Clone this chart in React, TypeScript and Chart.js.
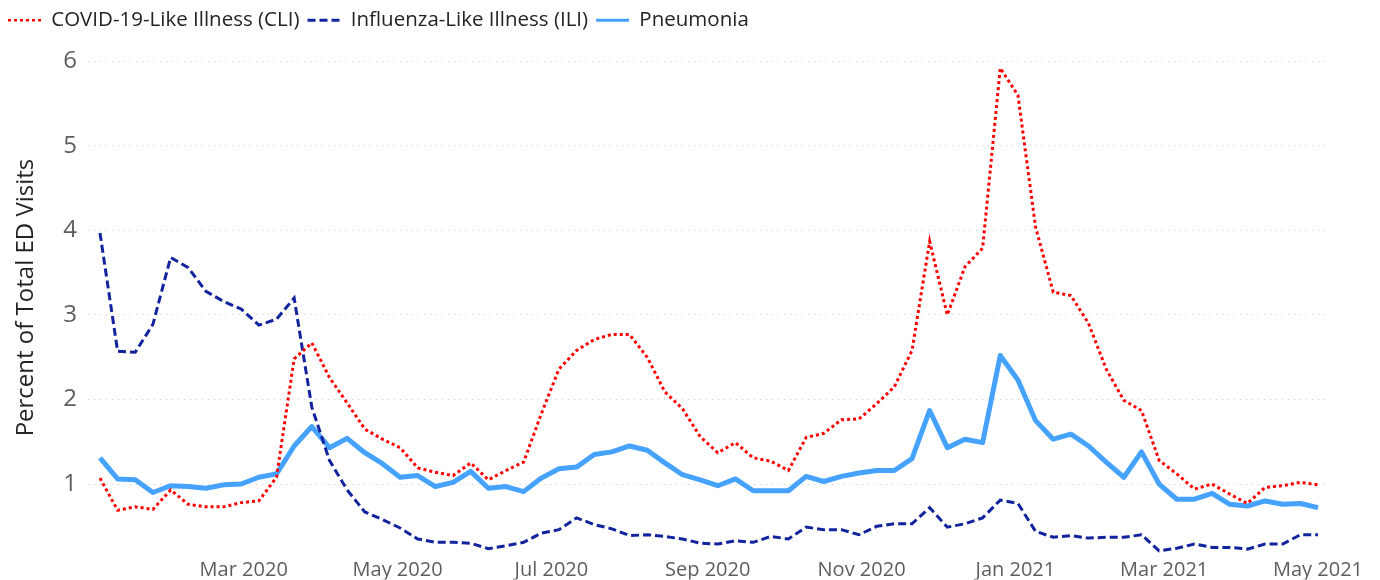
import React, { useEffect, useRef } from 'react';
import { Chart, registerables } from 'chart.js';

Chart.register(...registerables);

// Weekly data points (week ending), first week ending 2020-01-04
const firstWeekEnding = '2020-01-04';

const seriesNames = [
  'COVID-19-Like Illness (CLI)',
  'Influenza-Like Illness (ILI)',
  'Pneumonia',
];

const cli = [
  1.07, 0.69, 0.73, 0.70, 0.93, 0.76, 0.73, 0.73, 0.78, 0.80,
  1.08, 2.48, 2.67, 2.26, 1.96, 1.65, 1.53, 1.43, 1.19, 1.14,
  1.10, 1.25, 1.05, 1.16, 1.26, 1.83, 2.36, 2.58, 2.71, 2.77,
  2.77, 2.50, 2.09, 1.89, 1.56, 1.37, 1.49, 1.31, 1.27, 1.16,
  1.55, 1.60, 1.76, 1.77, 1.95, 2.15, 2.58, 3.87, 3.00, 3.57,
  3.79, 5.92, 5.60, 4.04, 3.27, 3.23, 2.90, 2.36, 1.99, 1.87,
  1.28, 1.12, 0.94, 1.00, 0.88, 0.77, 0.96, 0.98, 1.02, 0.99,
];

const ili = [
  3.97, 2.57, 2.56, 2.89, 3.68, 3.56, 3.28, 3.16, 3.07, 2.88,
  2.95, 3.20, 1.91, 1.28, 0.93, 0.67, 0.58, 0.48, 0.35, 0.31,
  0.31, 0.30, 0.235, 0.27, 0.31, 0.42, 0.46, 0.60, 0.52, 0.47,
  0.39, 0.40, 0.38, 0.35, 0.30, 0.29, 0.33, 0.31, 0.38, 0.35,
  0.49, 0.46, 0.46, 0.40, 0.50, 0.53, 0.53, 0.72, 0.49, 0.53,
  0.60, 0.81, 0.77, 0.44, 0.37, 0.39, 0.36, 0.37, 0.37, 0.40,
  0.21, 0.24, 0.29, 0.25, 0.25, 0.23, 0.29, 0.29, 0.40, 0.40,
];

const pneumonia = [
  1.31, 1.06, 1.05, 0.90, 0.98, 0.97, 0.95, 0.99, 1.00, 1.08,
  1.12, 1.45, 1.68, 1.43, 1.54, 1.37, 1.24, 1.08, 1.10, 0.97,
  1.02, 1.15, 0.95, 0.97, 0.91, 1.07, 1.18, 1.20, 1.35, 1.38,
  1.45, 1.40, 1.25, 1.11, 1.05, 0.98, 1.06, 0.92, 0.92, 0.92,
  1.09, 1.03, 1.09, 1.13, 1.16, 1.16, 1.30, 1.87, 1.43, 1.53,
  1.49, 2.52, 2.23, 1.75, 1.53, 1.59, 1.45, 1.26, 1.08, 1.38,
  1.00, 0.82, 0.82, 0.89, 0.76, 0.74, 0.80, 0.76, 0.77, 0.72,
];

const tickDates = [
  '2020-03-01', '2020-05-01', '2020-07-01', '2020-09-01',
  '2020-11-01', '2021-01-01', '2021-03-01', '2021-05-01',
];
const tickLabels = [
  'Mar 2020', 'May 2020', 'Jul 2020', 'Sep 2020',
  'Nov 2020', 'Jan 2021', 'Mar 2021', 'May 2021',
];
const yTicks = [1, 2, 3, 4, 5, 6];

const DAY_MS = 86400000;
function toUTC(iso: string): number {
  const [y, m, d] = iso.split('-').map(Number);
  return Date.UTC(y, m - 1, d);
}
const t0 = toUTC(firstWeekEnding);
const dayOf = (iso: string) => (toUTC(iso) - t0) / DAY_MS;
const weekDays = cli.map((_, i) => i * 7);
const tickDays = tickDates.map(dayOf);

const toPoints = (vals: number[]) => vals.map((v, i) => ({ x: weekDays[i], y: v }));

const lineDashes: number[][] = [[3, 3], [8, 4], []];
const legendWidths = [2.5, 3, 3];

export default function App() {
  const canvasRef = useRef<HTMLCanvasElement | null>(null);

  useEffect(() => {
    if (!canvasRef.current) return;
    Chart.defaults.font.family = "'Open Sans', 'Noto Sans', sans-serif";
    const chart = new Chart(canvasRef.current, {
      type: 'line',
      data: {
        datasets: [
          {
            label: seriesNames[0],
            data: toPoints(cli),
            borderColor: '#FF0000',
            backgroundColor: '#FF0000',
            borderWidth: 3,
            borderDash: lineDashes[0],
            pointRadius: 0,
            tension: 0,
            fill: false,
          },
          {
            label: seriesNames[1],
            data: toPoints(ili),
            borderColor: '#12239E',
            backgroundColor: '#12239E',
            borderWidth: 3,
            borderDash: lineDashes[1],
            pointRadius: 0,
            tension: 0,
            fill: false,
          },
          {
            label: seriesNames[2],
            data: toPoints(pneumonia),
            borderColor: '#45A2FF',
            backgroundColor: '#45A2FF',
            borderWidth: 5,
            borderJoinStyle: 'round',
            pointRadius: 0,
            tension: 0,
            fill: false,
          },
        ],
      },
      options: {
        responsive: false,
        animation: false,
        layout: { padding: { top: 2, right: 50, left: 0, bottom: 0 } },
        plugins: {
          tooltip: { enabled: false },
          legend: {
            display: true,
            position: 'top',
            align: 'start',
            labels: {
              usePointStyle: true,
              pointStyle: 'line',
              pointStyleWidth: 33,
              boxHeight: 20,
              padding: 8,
              color: '#252423',
              font: { size: 20.5 },
              generateLabels: (ch: any) => {
                const items = Chart.defaults.plugins.legend.labels.generateLabels(ch);
                return items.map((it: any) => {
                  const ds = ch.data.datasets[it.datasetIndex];
                  return {
                    ...it,
                    strokeStyle: ds.borderColor,
                    fillStyle: ds.borderColor,
                    lineDash: lineDashes[it.datasetIndex],
                    lineWidth: legendWidths[it.datasetIndex],
                  };
                });
              },
            },
          },
        },
        scales: {
          x: {
            type: 'linear',
            min: -4.75,
            max: 487.75,
            grid: { display: false },
            border: { display: false },
            afterBuildTicks: (s: any) => {
              s.ticks = tickDays.map((v) => ({ value: v }));
            },
            afterFit: (s: any) => {
              s.height = 25;
            },
            ticks: {
              autoSkip: false,
              maxRotation: 0,
              minRotation: 0,
              padding: -4,
              color: '#605E5C',
              font: { size: 20 },
              callback: (_v: any, i: number) => tickLabels[i],
            },
          },
          y: {
            type: 'linear',
            min: 0.165,
            max: 6.247,
            afterBuildTicks: (s: any) => {
              s.ticks = yTicks.map((v) => ({ value: v }));
            },
            afterFit: (s: any) => {
              s.width = 88;
            },
            grid: { color: '#cfcfcf', lineWidth: 1, drawTicks: false },
            border: { display: false, dash: [1, 5] },
            ticks: {
              padding: 11,
              color: '#605E5C',
              font: { size: 24 },
              callback: (v: any) => String(v),
            },
            title: {
              display: true,
              text: 'Percent of Total ED Visits',
              color: '#252423',
              font: { size: 24 },
              padding: { top: 12, bottom: 0 },
            },
          },
        },
      },
    });
    return () => chart.destroy();
  }, []);

  return (
    <div style={{ position: 'fixed', left: 0, top: 0, width: 1380, height: 580, background: '#fff' }}>
      <canvas ref={canvasRef} width={1380} height={580} style={{ width: 1380, height: 580 }} />
    </div>
  );
}
